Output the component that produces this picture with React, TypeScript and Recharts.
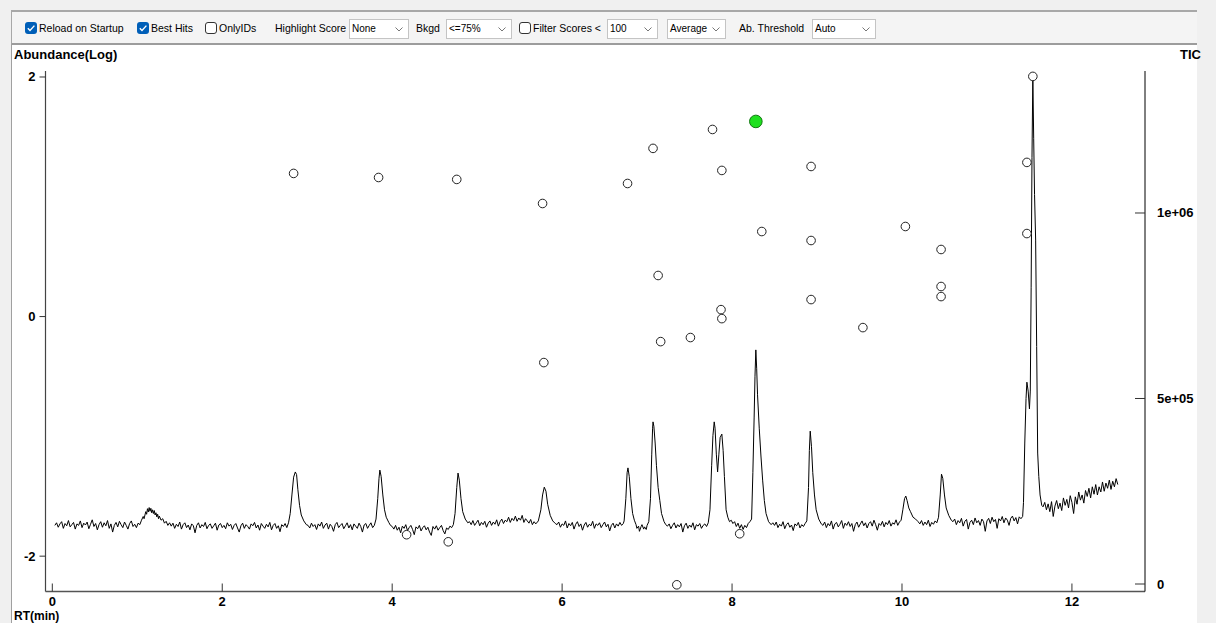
import React from 'react';
import { ComposedChart, Line, Scatter, XAxis, YAxis } from 'recharts';

const FONT = '"Liberation Sans", Arial, sans-serif';

// TIC trace: [retention time (min), TIC (thousands)]
const ticTrace: [number, number][] = [
  [0.03,158],[0.05,165],[0.07,153],[0.09,162],[0.11,168],[0.13,150],[0.15,163],[0.17,157],[0.19,171],[0.21,154],
  [0.23,160],[0.25,166],[0.27,148],[0.29,162],[0.31,158],[0.33,170],[0.35,152],[0.37,164],[0.39,159],[0.41,167],
  [0.43,149],[0.45,161],[0.47,173],[0.49,155],[0.51,163],[0.53,146],[0.55,160],[0.57,168],[0.59,153],[0.61,165],
  [0.63,157],[0.65,171],[0.67,150],[0.69,162],[0.71,140],[0.73,158],[0.75,166],[0.77,154],[0.79,169],[0.81,160],
  [0.83,152],[0.85,167],[0.87,158],[0.89,148],[0.91,163],[0.93,170],[0.95,155],[0.97,161],[0.99,152],[1.01,164],
  [1.03,160],[1.05,172],[1.07,182],[1.08,176],[1.10,195],[1.11,188],[1.12,203],[1.13,194],[1.14,206],[1.15,196],
  [1.16,204],[1.17,192],[1.18,200],[1.19,190],[1.20,198],[1.21,186],[1.22,192],[1.23,181],[1.24,188],[1.25,176],
  [1.26,183],[1.28,172],[1.30,176],[1.32,164],[1.34,169],[1.36,158],[1.38,165],
  [1.40,156],[1.42,164],[1.44,150],[1.46,161],[1.48,155],[1.50,167],[1.52,148],[1.54,160],[1.56,165],[1.58,152],
  [1.60,159],[1.62,146],[1.64,162],[1.66,157],[1.68,138],[1.70,158],[1.72,165],[1.74,151],[1.76,160],[1.78,155],
  [1.80,166],[1.82,149],[1.84,158],[1.86,162],[1.88,150],[1.90,157],[1.92,164],[1.94,145],[1.96,159],[1.98,163],
  [2.00,152],[2.02,158],[2.04,149],[2.06,165],[2.08,156],[2.10,161],[2.12,147],[2.14,158],[2.16,163],[2.18,151],
  [2.20,140],[2.22,157],[2.24,164],[2.26,150],[2.28,160],[2.30,155],[2.32,148],[2.34,162],[2.36,157],[2.38,166],
  [2.40,151],[2.42,159],[2.44,145],[2.46,163],[2.48,156],[2.50,150],[2.52,161],[2.54,154],[2.56,166],[2.58,146],
  [2.60,158],[2.62,163],[2.64,150],[2.66,157],[2.68,141],[2.70,160],[2.72,155],[2.74,163],[2.76,152],
  [2.78,165],[2.80,190],[2.82,240],[2.84,288],[2.86,302],[2.875,295],[2.89,255],[2.91,212],[2.93,186],[2.96,170],[2.99,160],
  [3.01,158],[3.03,151],[3.05,164],[3.07,155],[3.09,160],[3.11,147],[3.13,162],[3.15,156],[3.17,167],[3.19,150],
  [3.21,159],[3.23,164],[3.25,148],[3.27,161],[3.29,155],[3.31,142],[3.33,160],[3.35,166],[3.37,152],[3.39,158],
  [3.41,163],[3.43,149],[3.45,157],[3.47,165],[3.49,151],[3.51,160],[3.53,146],[3.55,162],[3.57,156],[3.59,150],
  [3.61,164],[3.63,155],[3.65,140],[3.67,159],[3.69,163],[3.71,150],[3.73,158],[3.75,165],[3.77,152],[3.79,158],
  [3.81,175],[3.83,230],[3.845,285],[3.855,307],[3.87,290],[3.89,240],[3.91,200],[3.93,180],[3.96,166],[3.98,158],
  [4.00,155],[4.02,148],[4.04,158],[4.06,145],[4.08,153],[4.10,138],[4.12,156],[4.14,150],[4.16,160],[4.18,144],
  [4.20,152],[4.22,158],[4.24,147],[4.26,133],[4.28,154],[4.30,149],[4.32,158],[4.34,143],[4.36,152],[4.38,157],
  [4.40,146],[4.42,153],[4.44,140],[4.46,131],[4.48,155],[4.50,148],[4.52,157],[4.54,145],[4.56,152],[4.58,158],
  [4.60,144],[4.62,135],[4.64,151],[4.66,147],[4.68,156],[4.70,152],
  [4.72,160],[4.74,190],[4.76,260],[4.775,299],[4.79,280],[4.81,230],[4.83,195],[4.86,175],[4.89,165],
  [4.91,168],[4.93,160],[4.95,171],[4.97,158],[4.99,165],[5.01,172],[5.03,157],[5.05,166],[5.07,160],[5.09,169],
  [5.11,153],[5.13,164],[5.15,170],[5.17,158],[5.19,167],[5.21,161],[5.23,173],[5.25,156],[5.27,168],[5.29,175],
  [5.31,163],[5.33,172],[5.35,168],[5.37,180],[5.39,166],[5.41,177],[5.43,171],[5.45,183],[5.47,169],[5.49,178],
  [5.51,172],[5.53,185],[5.55,166],[5.57,176],[5.59,170],[5.61,164],[5.63,174],[5.65,160],[5.67,168],[5.69,162],
  [5.72,170],[5.75,200],[5.77,240],[5.79,261],[5.81,250],[5.83,215],[5.86,185],[5.89,170],[5.92,163],
  [5.94,160],[5.96,167],[5.98,153],[6.00,162],[6.02,158],[6.04,170],[6.06,151],[6.08,163],[6.10,157],[6.12,166],
  [6.14,148],[6.16,161],[6.18,168],[6.20,155],[6.22,162],[6.24,145],[6.26,159],[6.28,166],[6.30,153],[6.32,161],
  [6.34,157],[6.36,169],[6.38,150],[6.40,162],[6.42,158],[6.44,165],[6.46,152],[6.48,160],[6.50,167],[6.52,154],
  [6.54,161],[6.56,143],[6.58,158],[6.60,164],[6.62,151],[6.64,162],[6.66,156],[6.68,166],[6.70,158],[6.72,163],
  [6.73,170],[6.75,230],[6.765,300],[6.775,313],[6.79,290],[6.81,230],[6.83,190],[6.85,172],[6.87,160],[6.88,150],
  [6.90,156],[6.91,142],[6.93,155],[6.94,160],[6.96,148],[6.97,154],[6.99,147],[7.00,158],
  [7.02,168],[7.04,230],[7.055,350],[7.065,420],[7.07,437],[7.08,425],[7.095,380],[7.11,320],[7.13,260],[7.15,225],
  [7.17,190],[7.20,168],[7.22,160],
  [7.24,156],[7.26,162],[7.28,149],[7.30,158],[7.32,165],[7.34,151],[7.36,160],[7.38,154],[7.40,163],[7.42,140],
  [7.44,157],[7.46,164],[7.48,150],[7.50,159],[7.52,153],[7.54,165],[7.56,146],[7.58,160],[7.60,156],[7.62,163],
  [7.64,150],[7.66,158],[7.68,162],[7.70,155],
  [7.72,165],[7.74,200],[7.76,320],[7.775,400],[7.79,437],[7.80,420],[7.815,350],[7.83,302],[7.845,350],[7.86,395],
  [7.88,404],[7.895,360],[7.91,290],[7.93,200],[7.95,180],[7.97,168],[7.99,172],[8.01,163],[8.03,168],[8.05,155],
  [8.07,164],[8.09,150],[8.11,160],[8.13,147],[8.15,158],[8.17,152],[8.19,163],[8.21,168],
  [8.23,175],[8.245,300],[8.26,450],[8.27,560],[8.28,631],[8.29,580],[8.30,510],[8.32,420],[8.34,345],[8.36,280],
  [8.38,225],[8.40,190],[8.43,168],[8.46,160],
  [8.48,165],[8.50,158],[8.52,167],[8.54,152],[8.56,161],[8.58,156],[8.60,168],[8.62,149],[8.64,160],[8.66,165],
  [8.68,153],[8.70,159],[8.72,144],[8.74,162],[8.76,157],[8.78,166],[8.80,151],[8.82,160],[8.84,155],[8.86,163],
  [8.88,170],[8.90,260],[8.91,360],[8.92,412],[8.935,370],[8.95,300],[8.97,240],[8.99,200],[9.02,175],[9.05,162],
  [9.07,158],[9.09,167],[9.11,152],[9.13,163],[9.15,157],[9.17,170],[9.19,148],[9.21,162],[9.23,166],[9.25,154],
  [9.27,161],[9.29,171],[9.31,150],[9.33,164],[9.35,158],[9.37,168],[9.39,155],[9.41,163],[9.43,142],[9.45,160],
  [9.47,167],[9.49,153],[9.51,162],[9.53,170],[9.55,157],[9.57,165],[9.59,151],[9.61,163],[9.63,168],[9.65,156],
  [9.67,172],[9.69,160],[9.71,145],[9.73,163],[9.75,158],[9.77,169],[9.79,154],[9.81,166],[9.83,160],[9.85,171],
  [9.87,156],[9.89,165],[9.91,161],[9.93,173],[9.95,158],[9.97,167],
  [9.99,172],[10.01,200],[10.03,230],[10.045,237],[10.06,225],[10.08,205],[10.10,195],[10.13,180],[10.16,175],[10.19,168],
  [10.21,162],[10.23,171],[10.25,158],[10.27,167],[10.29,160],[10.31,172],[10.33,155],[10.35,166],[10.37,161],[10.39,170],[10.41,165],
  [10.43,180],[10.45,240],[10.465,296],[10.48,285],[10.50,240],[10.52,205],[10.55,185],[10.58,172],
  [10.60,168],[10.62,175],[10.64,160],[10.66,171],[10.68,165],[10.70,177],[10.72,156],[10.74,169],[10.76,174],[10.78,148],
  [10.80,166],[10.82,172],[10.84,160],[10.86,178],[10.88,165],[10.90,171],[10.92,158],[10.94,175],[10.96,168],[10.98,142],
  [11.00,170],[11.02,177],[11.04,163],[11.06,180],[11.08,168],[11.10,174],[11.12,150],[11.14,176],[11.16,170],[11.18,182],
  [11.20,165],[11.22,178],[11.24,172],[11.26,158],[11.28,177],[11.30,183],[11.32,170],[11.34,179],[11.36,162],[11.38,181],[11.40,176],
  [11.42,182],[11.43,220],[11.445,380],[11.46,500],[11.47,544],[11.485,520],[11.50,472],[11.51,520],[11.52,800],[11.53,1150],
  [11.54,1369],[11.55,1200],[11.56,1050],[11.573,927],[11.585,640],[11.597,353],[11.61,290],[11.625,240],[11.645,212],
  [11.66,208],[11.68,220],[11.70,200],[11.72,216],[11.74,195],[11.76,222],[11.78,182],[11.80,210],[11.82,225],[11.84,203],
  [11.86,218],[11.88,198],[11.90,232],[11.92,212],[11.94,228],[11.96,205],[11.98,238],[12.00,220],[12.02,190],[12.04,235],
  [12.06,215],[12.08,248],[12.10,226],[12.12,240],[12.14,218],[12.16,252],[12.18,236],[12.20,258],[12.22,232],[12.24,262],
  [12.26,242],[12.28,268],[12.30,240],[12.32,262],[12.34,248],[12.36,275],[12.38,250],[12.40,272],[12.42,258],[12.44,280],
  [12.46,255],[12.48,277],[12.50,262],[12.52,284],[12.54,268],
];

// Library hits (log abundance)
const hitRt = [2.84, 3.84, 4.76, 5.77, 5.785, 4.17, 4.66, 6.77, 7.07, 7.13, 7.16, 7.35, 7.51, 7.77, 7.88,
  7.87, 7.88, 8.09, 8.35, 8.93, 8.93, 8.93, 9.54, 10.04, 10.46, 10.46, 10.46, 11.47, 11.47, 11.54];
const hitLogAb = [1.195, 1.161, 1.145, 0.944, -0.384, -1.821, -1.88, 1.111, 1.404, 0.343, -0.209, -2.239, -0.175, 1.562, 1.22,
  0.058, -0.017, -1.813, 0.71, 1.253, 0.635, 0.142, -0.092, 0.752, 0.56, 0.251, 0.167, 1.287, 0.693, 2.005];
const bestHitRt = [8.28];
const bestHitLogAb = [1.629];

const rtTicks = [0, 2, 4, 6, 8, 10, 12];
const abTicks = [-2, 0, 2];
const ticTicks = [0, 500, 1000];
const ticTickLabels = ['0', '5e+05', '1e+06'];

const ticData = ticTrace.map(([rt, tic]) => ({ rt, tic }));
const hitData = hitRt.map((rt, i) => ({ rt, ab: hitLogAb[i] }));
const bestData = bestHitRt.map((rt, i) => ({ rt, ab: bestHitLogAb[i] }));

const XTick = ({ x, y, payload }: any) => (
  <g>
    <line x1={x} x2={x} y1={y} y2={y - 8} stroke="#333" strokeWidth={1} />
    <text x={x} y={y + 14.5} textAnchor="middle" fontFamily={FONT} fontWeight="bold" fontSize={13} fill="#000">
      {payload.value}
    </text>
  </g>
);

const LeftTick = ({ x, y, payload }: any) => (
  <g>
    <line x1={x - 6} x2={x} y1={y} y2={y} stroke="#333" strokeWidth={1} />
    <text x={x - 10} y={y + 4.5} textAnchor="end" fontFamily={FONT} fontWeight="bold" fontSize={13} fill="#000">
      {payload.value}
    </text>
  </g>
);

const RightTick = ({ x, y, payload }: any) => (
  <g>
    <line x1={x - 10} x2={x} y1={y} y2={y} stroke="#333" strokeWidth={1} />
    <text x={x + 12} y={y + 4.5} textAnchor="start" fontFamily={FONT} fontWeight="bold" fontSize={13} fill="#000">
      {ticTickLabels[ticTicks.indexOf(payload.value)]}
    </text>
  </g>
);

const HitDot = (p: any) => <circle cx={p.cx} cy={p.cy} r={4.3} fill="#fff" stroke="#222" strokeWidth={1} />;
const BestDot = (p: any) => <circle cx={p.cx} cy={p.cy} r={6.3} fill="#1fe01f" stroke="#117711" strokeWidth={1} />;

const txt: React.CSSProperties = { position: 'absolute', top: 21, fontSize: 10.5, lineHeight: '14px', whiteSpace: 'nowrap', color: '#000' };

const Label = ({ left, text }: { left: number; text: string }) => <div style={{ ...txt, left }}>{text}</div>;

const Check = ({ left, checked }: { left: number; checked: boolean }) =>
  checked ? (
    <div style={{ position: 'absolute', left, top: 22, width: 12, height: 12, borderRadius: 3, background: '#005fb8' }}>
      <svg width={12} height={12} style={{ position: 'absolute', left: 0, top: 0 }}>
        <polyline points="2.8,6.2 5,8.4 9.4,3.6" fill="none" stroke="#fff" strokeWidth={1.4} />
      </svg>
    </div>
  ) : (
    <div style={{ position: 'absolute', left, top: 22, width: 12, height: 12, borderRadius: 3, background: '#fff', border: '1px solid #333', boxSizing: 'border-box' }} />
  );

const Select = ({ left, width, text }: { left: number; width: number; text: string }) => (
  <div style={{ position: 'absolute', left, top: 19, width, height: 20, background: '#fff', border: '1px solid #c4c4c4', boxSizing: 'border-box', fontSize: 10, lineHeight: '18px', paddingLeft: 2, whiteSpace: 'nowrap' }}>
    {text}
    <svg width={8} height={5} style={{ position: 'absolute', right: 5, top: 7 }}>
      <polyline points="0.5,0.5 4,4 7.5,0.5" fill="none" stroke="#777" strokeWidth={1} />
    </svg>
  </div>
);

const bold13: React.CSSProperties = { position: 'absolute', fontSize: 13, fontWeight: 'bold', lineHeight: '16px', whiteSpace: 'nowrap', color: '#000' };

export default function App() {
  return (
    <div style={{ position: 'absolute', left: 0, top: 0, width: 1216, height: 623, overflow: 'hidden', background: '#f0f0f0', fontFamily: FONT }}>
      {/* toolbar */}
      <div style={{ position: 'absolute', left: 11, top: 10, width: 1186, height: 35, background: '#f4f4f4', borderTop: '2px solid #a8a8a8', borderLeft: '1px solid #a8a8a8', borderBottom: '2px solid #9c9c9c', boxSizing: 'border-box' }} />
      <Check left={25} checked />
      <Label left={39} text="Reload on Startup" />
      <Check left={137} checked />
      <Label left={151} text="Best Hits" />
      <Check left={205} checked={false} />
      <Label left={219} text="OnlyIDs" />
      <Label left={275} text="Highlight Score" />
      <Select left={349} width={60} text="None" />
      <Label left={416} text="Bkgd" />
      <Select left={446} width={66} text="<=75%" />
      <Check left={519} checked={false} />
      <Label left={533} text="Filter Scores <" />
      <Select left={607} width={51} text="100" />
      <Select left={667} width={59} text="Average" />
      <Label left={739} text="Ab. Threshold" />
      <Select left={812} width={64} text="Auto" />

      {/* chart panel */}
      <div style={{ position: 'absolute', left: 11, top: 45, width: 1186, height: 578, background: '#fff', borderLeft: '1px solid #a0a0a0', boxSizing: 'border-box' }} />
      <div style={{ ...bold13, left: 14, top: 47 }}>Abundance(Log)</div>
      <div style={{ ...bold13, left: 1180, top: 47 }}>TIC</div>
      <div style={{ ...bold13, left: 14, top: 610, fontSize: 12, lineHeight: '12px' }}>RT(min)</div>

      <div style={{ position: 'absolute', left: 0, top: 0 }}>
        <ComposedChart width={1196} height={623} margin={{ top: 71, right: 0, bottom: 11.5, left: 25.5 }}>
          <XAxis
            xAxisId="rt"
            type="number"
            dataKey="rt"
            domain={[-0.08, 12.86]}
            allowDataOverflow
            ticks={rtTicks}
            height={20}
            tickSize={0}
            tickMargin={0}
            tickLine={false}
            tick={<XTick />}
            axisLine={{ stroke: '#555', strokeWidth: 1.5 }}
            interval={0}
          />
          <YAxis
            yAxisId="ab"
            orientation="left"
            type="number"
            domain={[-2.295, 2.05]}
            allowDataOverflow
            ticks={abTicks}
            width={20}
            tickSize={0}
            tickMargin={0}
            tickLine={false}
            tick={<LeftTick />}
            axisLine={{ stroke: '#444', strokeWidth: 1.2 }}
            interval={0}
          />
          <YAxis
            yAxisId="tic"
            orientation="right"
            type="number"
            domain={[-20.2, 1382.7]}
            allowDataOverflow
            ticks={ticTicks}
            width={51}
            tickSize={0}
            tickMargin={0}
            tickLine={false}
            tick={<RightTick />}
            axisLine={{ stroke: '#000', strokeWidth: 1 }}
            interval={0}
          />
          <Line
            data={ticData}
            xAxisId="rt"
            yAxisId="tic"
            dataKey="tic"
            type="linear"
            stroke="#000"
            strokeWidth={1}
            dot={false}
            activeDot={false}
            isAnimationActive={false}
          />
          <Scatter data={hitData} xAxisId="rt" yAxisId="ab" dataKey="ab" shape={HitDot} isAnimationActive={false} />
          <Scatter data={bestData} xAxisId="rt" yAxisId="ab" dataKey="ab" shape={BestDot} isAnimationActive={false} />
        </ComposedChart>
      </div>
    </div>
  );
}
